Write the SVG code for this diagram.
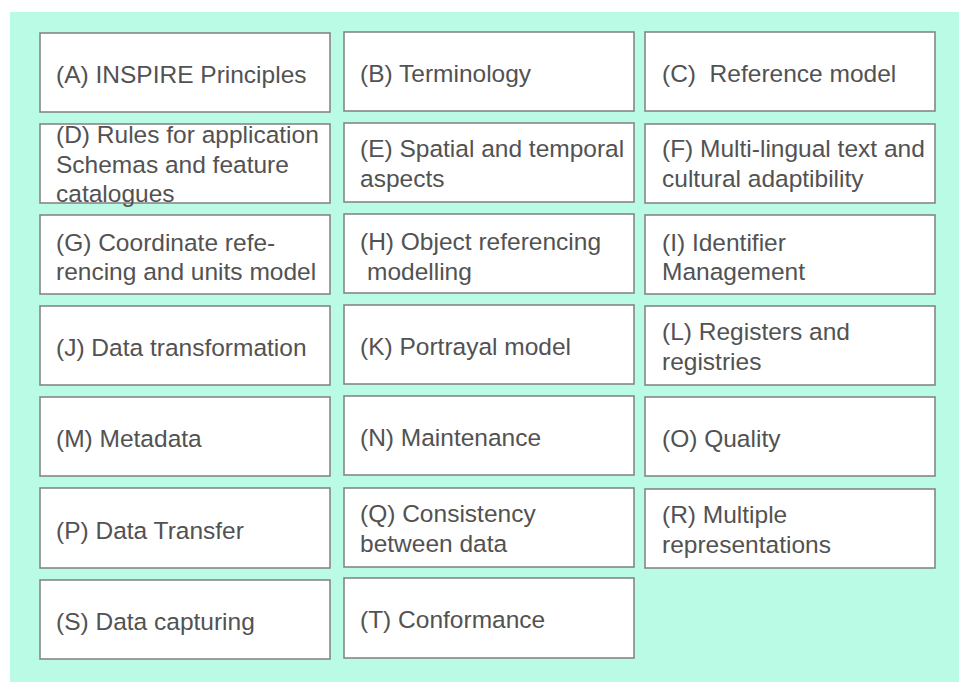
<svg xmlns="http://www.w3.org/2000/svg" width="959" height="682" viewBox="0 0 959 682">
<style>
.box{fill:#ffffff;stroke:#868686;stroke-width:1.6}
.t{font-family:"Liberation Sans",Arial,sans-serif;font-size:24.5px;fill:#525252}
</style>
<rect x="0" y="0" width="959" height="682" fill="#ffffff"/>
<rect x="10" y="12" width="949" height="670" fill="#bafbe6"/>
<g id="connectors"></g>
<g id="A"><rect class="box" x="40" y="33" width="290" height="79"/><text class="t" x="56" y="83">(A) INSPIRE Principles</text></g>
<g id="B"><rect class="box" x="344" y="32" width="290" height="79"/><text class="t" x="360" y="82">(B) Terminology</text></g>
<g id="C"><rect class="box" x="645" y="32" width="290" height="79"/><text class="t" x="662" y="82" xml:space="preserve">(C)  Reference model</text></g>
<g id="D"><rect class="box" x="40" y="124" width="290" height="79"/><text class="t" x="56" y="143">(D) Rules for application<tspan x="56" y="173">Schemas and feature</tspan><tspan x="56" y="202">catalogues</tspan></text></g>
<g id="E"><rect class="box" x="344" y="123" width="290" height="79"/><text class="t" x="360" y="157">(E) Spatial and temporal<tspan x="360" y="187">aspects</tspan></text></g>
<g id="F"><rect class="box" x="645" y="124" width="290" height="79"/><text class="t" x="662" y="157">(F) Multi-lingual text and<tspan x="662" y="187">cultural adaptibility</tspan></text></g>
<g id="G"><rect class="box" x="40" y="215" width="290" height="79"/><text class="t" x="56" y="251">(G) Coordinate refe-<tspan x="56" y="280">rencing and units model</tspan></text></g>
<g id="H"><rect class="box" x="344" y="214" width="290" height="79"/><text class="t" x="360" y="250">(H) Object referencing<tspan x="367" y="280">modelling</tspan></text></g>
<g id="I"><rect class="box" x="645" y="215" width="290" height="79"/><text class="t" x="662" y="251">(I) Identifier<tspan x="662" y="280">Management</tspan></text></g>
<g id="J"><rect class="box" x="40" y="306" width="290" height="79"/><text class="t" x="56" y="356">(J) Data transformation</text></g>
<g id="K"><rect class="box" x="344" y="305" width="290" height="79"/><text class="t" x="360" y="355">(K) Portrayal model</text></g>
<g id="L"><rect class="box" x="645" y="306" width="290" height="79"/><text class="t" x="662" y="340">(L) Registers and<tspan x="662" y="370">registries</tspan></text></g>
<g id="M"><rect class="box" x="40" y="397" width="290" height="79"/><text class="t" x="56" y="447">(M) Metadata</text></g>
<g id="N"><rect class="box" x="344" y="396" width="290" height="79"/><text class="t" x="360" y="446">(N) Maintenance</text></g>
<g id="O"><rect class="box" x="645" y="397" width="290" height="79"/><text class="t" x="662" y="447">(O) Quality</text></g>
<g id="P"><rect class="box" x="40" y="488" width="290" height="80"/><text class="t" x="56" y="539">(P) Data Transfer</text></g>
<g id="Q"><rect class="box" x="344" y="488" width="290" height="79"/><text class="t" x="360" y="522">(Q) Consistency<tspan x="360" y="552">between data</tspan></text></g>
<g id="R"><rect class="box" x="645" y="489" width="290" height="79"/><text class="t" x="662" y="523">(R) Multiple<tspan x="662" y="553">representations</tspan></text></g>
<g id="S"><rect class="box" x="40" y="580" width="290" height="79"/><text class="t" x="56" y="630">(S) Data capturing</text></g>
<g id="T"><rect class="box" x="344" y="578" width="290" height="80"/><text class="t" x="360" y="628">(T) Conformance</text></g>
</svg>
